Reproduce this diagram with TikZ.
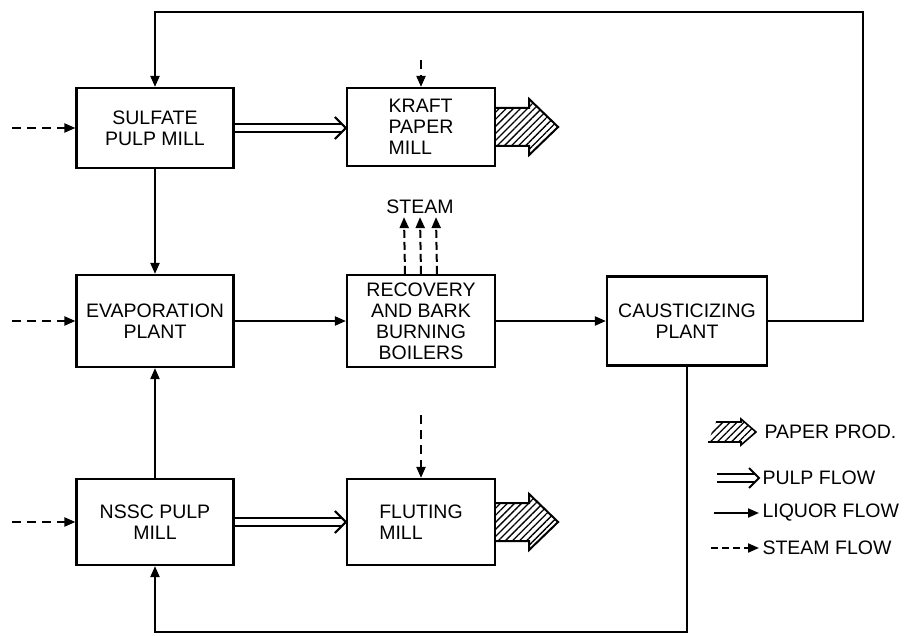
\documentclass[tikz,border=0pt]{standalone}
\usepackage{fontspec}
\setmainfont{Liberation Sans}
\usetikzlibrary{positioning, arrows.meta, calc, patterns.meta, decorations.markings}

\newcommand\boxfont{\fontsize{19.5}{21}\selectfont}

\begin{document}
\begin{tikzpicture}[x=1pt, y=-1pt, font=\boxfont,
    unit/.style={draw, line width=2.2pt, minimum width=157pt, minimum height=80pt, inner sep=0pt, align=center},
    liquor/.style={line width=2pt, -{Triangle[length=11pt,width=9pt]}},
    steam/.style={line width=2pt, dash pattern=on 9pt off 6pt, -{Triangle[length=11pt,width=9pt]}},
    pulp/.style={draw, line width=9.5pt, shorten >=4pt,
        postaction={draw=white, line width=5.5pt},
        postaction={decorate, decoration={markings, mark=at position 1 with {\draw[black, line width=2pt, shorten >=0pt, line join=miter] (-#1,#1) -- (0,0) -- (-#1,-#1);}}}},
    pulp/.default=11pt,
    paper/.style={draw, line width=2pt, pattern={Lines[angle=45,distance=5pt,line width=1.3pt]}}
]
    \useasboundingbox (0,0) rectangle (907,636);

    % Mills and plants
    \node[unit] (sulfate) at (155,128) {SULFATE\\PULP MILL};
    \node[unit, minimum width=148pt, minimum height=78pt, align=left] (kraft) at (421,127) {KRAFT\\PAPER\\MILL};
    \node[unit, minimum height=92pt] (evap) at (155,321) {EVAPORATION\\PLANT};
    \node[unit, minimum width=148pt, minimum height=92pt] (recov) at (421,321) {RECOVERY\\AND BARK\\BURNING\\BOILERS};
    \node[unit, minimum width=160pt, minimum height=89pt] (caust) at (687,321) {CAUSTICIZING\\PLANT};
    \node[unit, minimum height=86pt] (nssc) at (155,522) {NSSC PULP\\MILL};
    \node[unit, minimum width=148pt, minimum height=86pt, align=left] (fluting) at (421,522) {FLUTING\\MILL};
    \node[inner sep=3pt] (steamlbl) at (420,207) {STEAM};

    % Free ends
    \coordinate (west) at (12,0);
    \coordinate (topR) at (863,12);
    \coordinate (bot) at (0,632);
    \coordinate (kIn) at (421,60);
    \coordinate (fIn) at (421,415);

    % Liquor flow
    \draw[liquor] (sulfate) -- (evap);
    \draw[liquor] (nssc) -- (evap);
    \draw[liquor] (evap) -- (recov);
    \draw[liquor] (recov) -- (caust);
    \draw[liquor] (caust.east) -| (topR) -| (sulfate.north);
    \draw[liquor] (caust.south) |- (bot -| nssc.south) -- (nssc.south);

    % Steam flow
    \draw[steam] (west |- sulfate) -- (sulfate.west);
    \draw[steam] (west |- evap) -- (evap.west);
    \draw[steam] (west |- nssc) -- (nssc.west);
    \draw[steam] (kIn) -- (kraft.north);
    \draw[steam] (fIn) -- (fluting.north);
    \foreach \dx in {-16,0,16}
        \draw[steam, dash pattern=on 8pt off 4pt] ($(recov.north)+(\dx,0)$) -- ($(steamlbl.south)+(\dx,0)$);

    % Pulp flow
    \path[pulp] (sulfate.east) -- (sulfate.east -| kraft.west);
    \path[pulp] (nssc.east) -- (nssc.east -| fluting.west);

    % Paper products
    \path[paper] ($(kraft.east)+(0,-19)$) -- ++(33,0) -- ++(0,-9) -- ++(29,28) -- ++(-29,28) -- ++(0,-9) -- ++(-33,0);
    \path[paper] ($(fluting.east)+(0,-19)$) -- ++(33,0) -- ++(0,-9) -- ++(29,28) -- ++(-29,28) -- ++(0,-9) -- ++(-33,0);

    % Legend
    \node[anchor=west] (lgPaper) at (761,432) {PAPER PROD.};
    \node[anchor=west] (lgPulp) at (759,478) {PULP FLOW};
    \node[anchor=west] (lgLiq) at (759,513) {LIQUOR FLOW};
    \node[anchor=west] (lgSteam) at (759,548) {STEAM FLOW};
    \path[paper, line width=1.6pt] ($(lgPaper.west)+(-45,-10)$) -- ++(25,0) -- ++(0,-3) -- ++(15,13) -- ++(-15,13) -- ++(0,-3) -- ++(-33,0);
    \path[pulp=10pt] ($(lgPulp.west)+(-42,0)$) -- (lgPulp.west);
    \draw[liquor] ($(lgLiq.west)+(-45,0)$) -- (lgLiq.west);
    \draw[steam, dash pattern=on 7pt off 4pt] ($(lgSteam.west)+(-48,0)$) -- (lgSteam.west);
\end{tikzpicture}
\end{document}
